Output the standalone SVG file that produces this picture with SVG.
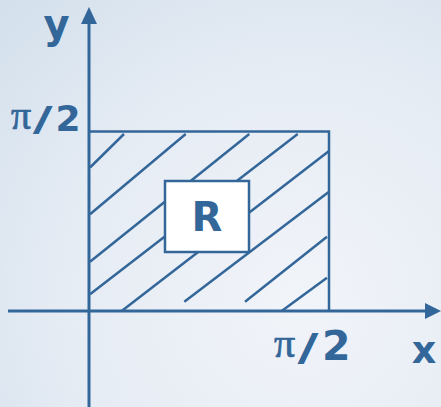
<svg xmlns="http://www.w3.org/2000/svg" width="441" height="407" viewBox="0 0 441 407">
  <defs>
    <radialGradient id="bg" cx="300" cy="300" r="420" gradientUnits="userSpaceOnUse">
      <stop offset="0" stop-color="#f1f4f9"/>
      <stop offset="0.55" stop-color="#e6ecf4"/>
      <stop offset="1" stop-color="#d3e0ec"/>
    </radialGradient>
    <style>
      .ln { stroke: #336699; stroke-width: 2.5; fill: none; stroke-linecap: butt; }
      .ax { stroke: #336699; stroke-width: 3; fill: none; }
      .ah { fill: #336699; }
      .lbl { font-family: "DejaVu Sans", Verdana, sans-serif; font-weight: bold; fill: #336699; }
      .pi { font-family: "Liberation Serif", "Times New Roman", serif; font-weight: normal; fill: #336699; stroke: #336699; stroke-width: 0.7; }
    </style>
  </defs>
  <rect x="0" y="0" width="441" height="407" fill="url(#bg)"/>

  <g id="hatch" class="ln">
    <line x1="90" y1="167.5" x2="124" y2="134"/>
    <line x1="90" y1="214.3" x2="185.7" y2="134"/>
    <line x1="90" y1="261.7" x2="249.3" y2="134"/>
    <line x1="90" y1="294.3" x2="297.7" y2="134"/>
    <line x1="121.7" y1="311" x2="329" y2="151"/>
    <line x1="184.3" y1="301.7" x2="329" y2="191.7"/>
    <line x1="245" y1="301.7" x2="327" y2="236.7"/>
    <line x1="281.7" y1="311" x2="327" y2="277.7"/>
  </g>

  <g id="region" class="ln">
    <polyline points="89,131.5 329,131.5 329,311"/>
  </g>

  <g id="connectors">
    <line class="ax" x1="89" y1="407" x2="89" y2="20"/>
    <polygon class="ah" points="89,7 81,24 97,24"/>
    <line class="ax" x1="8" y1="311" x2="428" y2="311"/>
    <polygon class="ah" points="441,311 425,303 425,319"/>
  </g>

  <g id="R">
    <rect x="165" y="181" width="84" height="71" fill="#ffffff" stroke="#336699" stroke-width="2.5"/>
    <text class="lbl" x="207" y="231" font-size="40" text-anchor="middle">R</text>
  </g>

  <g id="label-y">
    <text class="lbl" x="56.5" y="38" font-size="40" text-anchor="middle">y</text>
  </g>
  <g id="label-x">
    <text class="lbl" x="424" y="363" font-size="38" text-anchor="middle">x</text>
  </g>
  <g id="label-pi2-y">
    <text class="pi" x="11" y="128.5" font-size="40">π</text>
    <text class="lbl" font-size="34" text-anchor="middle" transform="translate(42.8,131) scale(1.6,1)">/</text>
    <text class="lbl" x="55.5" y="131" font-size="36">2</text>
  </g>
  <g id="label-pi2-x">
    <text class="pi" x="274" y="357" font-size="42">π</text>
    <text class="lbl" font-size="37" text-anchor="middle" transform="translate(308,360) scale(1.55,1)">/</text>
    <text class="lbl" x="322" y="360" font-size="41">2</text>
  </g>
</svg>
